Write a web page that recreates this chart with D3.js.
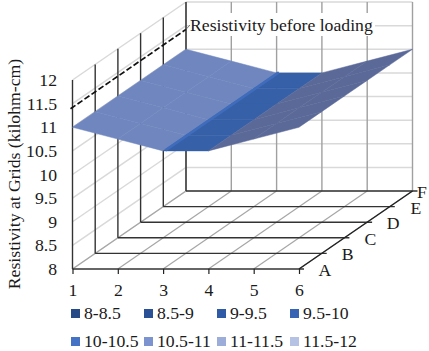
<!DOCTYPE html>
<html>
<head>
<meta charset="utf-8">
<script src="https://cdn.jsdelivr.net/npm/d3@7"></script>
<style>
  html, body { margin: 0; padding: 0; background: #fff; }
  svg { display: block; }
  text { font-family: "Liberation Serif", serif; fill: #1a1a1a; }
</style>
</head>
<body>
<svg id="chart" width="429" height="351"></svg>
<script>
const xCats = [1, 2, 3, 4, 5, 6];
const depthCats = ['A', 'B', 'C', 'D', 'E', 'F'];
const valueTicks = [8, 8.5, 9, 9.5, 10, 10.5, 11, 11.5, 12];
// one row per depth, all six rows read the same off the picture
const rowA = [11, 10.75, 10.5, 10.5, 10.75, 11];
const rowB = [11, 10.75, 10.5, 10.5, 10.75, 11];
const rowC = [11, 10.75, 10.5, 10.5, 10.75, 11];
const rowD = [11, 10.75, 10.5, 10.5, 10.75, 11];
const rowE = [11, 10.75, 10.5, 10.5, 10.75, 11];
const rowF = [11, 10.75, 10.5, 10.5, 10.75, 11];
const rows = [rowA, rowB, rowC, rowD, rowE, rowF];
const beforeLoading = 11.42;
const legendLabels = ['8-8.5', '8.5-9', '9-9.5', '9.5-10', '10-10.5', '10.5-11', '11-11.5', '11.5-12'];
const legendColors = ['#264a85', '#2a5095', '#2f5aa5', '#3763b5', '#4472c4', '#7c93d0', '#9dadda', '#b5c2e4'];
const cellColors = ['#6f86bf', '#6f86bf', '#3660a8', '#5a6998', '#5a6998'];
const fontSize = 17.7;

const svg = d3.select('#chart');

// oblique projection of the 3d box
const x = d3.scaleLinear().domain([1, 6]).range([72.5, 299]);
const y = d3.scaleLinear().domain([8, 12]).range([269, 80]);
const depthX = d3.scalePoint().domain(depthCats).range([0, 113.5]);
const depthY = d3.scalePoint().domain(depthCats).range([0, -78]);
const px = (i, d) => x(i) + depthX(d);
const py = (v, d) => y(v) + depthY(d);

const line = (x1, y1, x2, y2, stroke, width) => svg.append('line')
  .attr('x1', x1).attr('y1', y1).attr('x2', x2).attr('y2', y2)
  .attr('stroke', stroke).attr('stroke-width', width);

const first = depthCats[0], last = depthCats[5];

// walls, light gridlines first
valueTicks.forEach(v => {
  line(px(1, first), py(v, first), px(1, last), py(v, last), '#d9d9d9', 1.5);
  line(px(1, last), py(v, last), px(6, last), py(v, last), '#d9d9d9', 1.5);
});
xCats.forEach(i => {
  line(px(i, last), py(8, last), px(i, last), py(12, last), '#a0a0a0', 1.4);
  line(px(i, first), py(8, first), px(i, last), py(8, last), '#a6a6a6', 1.2);
});
depthCats.forEach(d => {
  line(px(1, d), py(8, d), px(1, d), py(12, d), '#333', 1.4);
  line(px(1, d), py(8, d), px(6, d) + 5, py(8, d), '#333', 1.4);
});
line(px(6, first), py(8, first), px(6, last), py(8, last), '#222', 1.4);

// axes on the floor front edge and the left side
const xAxis = svg.append('g')
  .attr('transform', `translate(0,${y(8)})`)
  .call(d3.axisBottom(x).tickValues(xCats).tickFormat(d3.format('d')).tickSize(5).tickPadding(9));
xAxis.select('.domain').remove();
xAxis.selectAll('line').attr('stroke', '#222').attr('stroke-width', 1.2);
xAxis.selectAll('text').attr('font-size', fontSize).attr('font-family', '"Liberation Serif", serif');

valueTicks.forEach(v => {
  svg.append('text').attr('x', 57).attr('y', y(v) + 6)
    .attr('text-anchor', 'end').attr('font-size', fontSize).text(v);
});

depthCats.forEach(d => {
  svg.append('text').attr('x', Math.min(px(6, d) + 26, 422)).attr('y', py(8, d) + 7)
    .attr('text-anchor', 'middle').attr('font-size', fontSize).text(d);
});

// surface, back to front so the cells overlap the right way
d3.range(4, -1, -1).forEach(r => {
  d3.range(0, 5).forEach(c => {
    const d0 = depthCats[r], d1 = depthCats[r + 1];
    const pts = [
      [px(xCats[c], d0), py(rows[r][c], d0)],
      [px(xCats[c + 1], d0), py(rows[r][c + 1], d0)],
      [px(xCats[c + 1], d1), py(rows[r + 1][c + 1], d1)],
      [px(xCats[c], d1), py(rows[r + 1][c], d1)]
    ];
    svg.append('path')
      .attr('d', d3.line()(pts) + 'Z')
      .attr('fill', cellColors[c])
      .attr('stroke', cellColors[c])
      .attr('stroke-width', 0.5);
  });
});

// lighter strip where the surface bends into the flat part
line(px(3.05, first), py(10.5, first) - 0.5, px(3.05, last), py(10.5, last) - 0.5, '#3f6cbb', 2.6);

// reference line before loading, label sits on a white box over the grid
svg.append('rect').attr('x', 189).attr('y', 13).attr('width', 186).attr('height', 23).attr('fill', '#fff');
line(px(1, first) - 2, py(beforeLoading, first) + 1.4, px(1, last), py(beforeLoading, last), '#111', 1.7)
  .attr('stroke-dasharray', '6,2.5');
line(px(1, last), py(beforeLoading, last), 190, 25, '#555', 0.8);
svg.append('text').attr('x', 190).attr('y', 31).attr('font-size', fontSize).text('Resistivity before loading');

// y title
svg.append('text')
  .attr('transform', 'translate(14,174) rotate(-90)')
  .attr('dy', '0.35em')
  .attr('text-anchor', 'middle')
  .attr('font-size', fontSize)
  .text('Resistivity at Grids (kilohm-cm)');

// legend, second row kept just inside the bottom edge
const legendX = d3.scalePoint().domain(d3.range(4)).range([71, 290]);
const legendY = d3.scalePoint().domain(d3.range(2)).range([309, 337]);
legendLabels.forEach((label, i) => {
  const lx = legendX(i % 4), ly = legendY(Math.floor(i / 4));
  svg.append('rect').attr('x', lx).attr('y', ly).attr('width', 9).attr('height', 9).attr('fill', legendColors[i]);
  svg.append('text').attr('x', lx + 13).attr('y', ly + 10).attr('font-size', fontSize).text(label);
});
</script>
</body>
</html>
